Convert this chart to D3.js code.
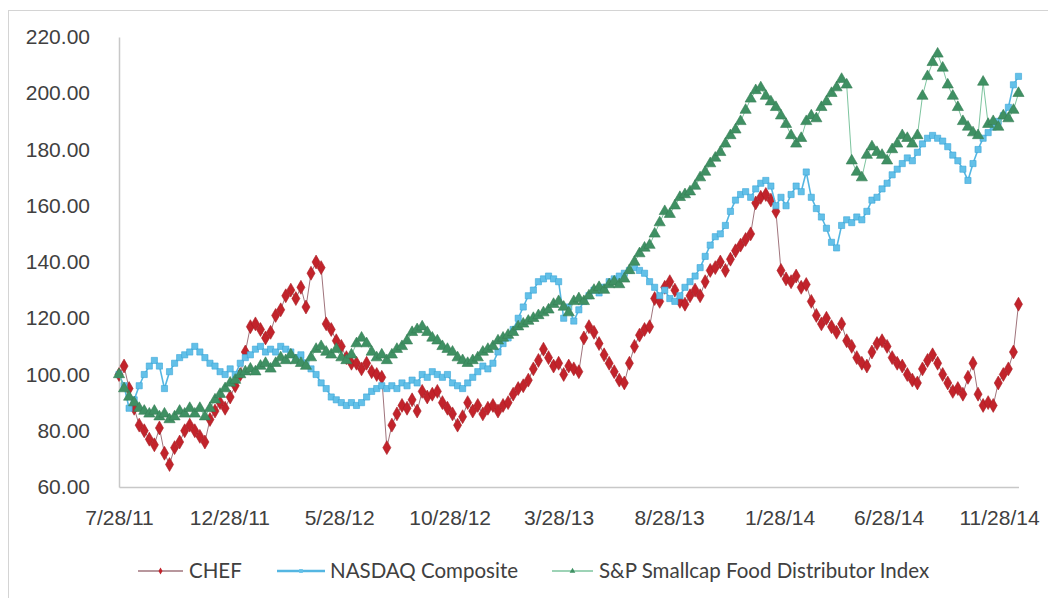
<!DOCTYPE html>
<html>
<head>
<meta charset="utf-8">
<script src="https://cdn.jsdelivr.net/npm/d3@7"></script>
<style>
  html, body { margin: 0; padding: 0; background: #fff; }
  svg { display: block; font-family: Lato, "Open Sans", sans-serif; }
</style>
</head>
<body>
<div id="chart"></div>
<script>
// weekly closes, indexed to 100 on 7/28/11
const startDate = "7/28/11";
const stepDays = 7;

const chef = [
  100, 103, 95, 88, 82, 80, 77, 75, 81, 72, 68, 74, 76, 80, 82, 80, 78, 76, 84, 87,
  90, 88, 92, 96, 100, 108, 117, 118, 116, 113, 115, 121, 123, 128, 130, 127, 131, 124, 136, 140,
  138, 118, 116, 112, 110, 106, 104, 104, 102, 104, 101, 100, 99, 74, 82, 86, 89, 88, 91, 87,
  94, 92, 93, 94, 90, 88, 86, 82, 85, 90, 87, 89, 86, 88, 89, 87, 89, 90, 93, 95,
  96, 98, 102, 105, 109, 106, 103, 104, 100, 103, 102, 101, 113, 117, 115, 111, 107, 104, 101, 98,
  97, 104, 110, 114, 116, 117, 127, 126, 131, 133, 130, 126, 125, 128, 130, 128, 133, 137, 138, 140,
  137, 141, 144, 146, 148, 150, 161, 163, 164, 162, 158, 137, 134, 133, 135, 131, 132, 126, 121, 118,
  120, 117, 115, 118, 112, 110, 106, 104, 103, 108, 111, 112, 110, 106, 104, 103, 100, 98, 97, 102,
  105, 107, 104, 100, 97, 94, 95, 93, 99, 104, 93, 89, 90, 89, 97, 100, 102, 108, 125
];

const nasdaq = [
  100, 96, 88, 91, 96, 100, 103, 105, 103, 95, 101, 104, 106, 107, 108, 110, 108, 106, 104, 103,
  101, 100, 102, 100, 104, 106, 107, 109, 110, 108, 109, 108, 110, 109, 108, 106, 107, 104, 102, 100,
  97, 95, 92, 91, 90, 89, 90, 89, 90, 92, 94, 95, 96, 95, 96, 95, 97, 96, 98, 97,
  100, 99, 101, 100, 99, 100, 97, 96, 95, 97, 99, 101, 103, 102, 104, 108, 111, 113, 116, 120,
  124, 128, 130, 133, 134, 135, 134, 133, 120, 124, 119, 123, 126, 128, 130, 129, 131, 133, 134, 135,
  136, 137, 138, 137, 136, 133, 131, 128, 130, 127, 126, 128, 131, 133, 135, 138, 142, 146, 149, 150,
  153, 158, 162, 164, 165, 163, 166, 168, 169, 167, 160, 163, 160, 164, 167, 165, 172, 163, 159, 156,
  152, 147, 145, 153, 155, 154, 156, 155, 158, 162, 163, 166, 168, 171, 173, 175, 177, 176, 179, 182,
  184, 185, 184, 183, 181, 178, 176, 173, 169, 175, 180, 184, 186, 188, 190, 192, 195, 203, 206
];

const spFood = [
  100, 95, 92, 90, 88, 87, 86, 87, 85, 86, 84, 85, 87, 86, 88, 86, 88, 85, 88, 91,
  93, 95, 97, 98, 100, 101, 102, 101, 103, 104, 102, 104, 106, 105, 107, 105, 104, 103, 106, 109,
  110, 108, 107, 109, 106, 105, 107, 111, 113, 111, 108, 106, 107, 105, 107, 109, 110, 112, 115, 116,
  117, 115, 113, 112, 110, 109, 108, 106, 105, 104, 105, 106, 108, 109, 110, 112, 113, 114, 115, 117,
  118, 119, 120, 121, 122, 123, 125, 126, 124, 122, 126, 127, 126, 128, 130, 131, 130, 132, 133, 132,
  134, 137, 140, 143, 145, 146, 150, 154, 158, 157, 160, 163, 164, 165, 167, 170, 172, 175, 177, 179,
  182, 185, 187, 190, 194, 198, 201, 202, 199, 197, 195, 192, 189, 185, 182, 184, 190, 192, 191, 195,
  197, 200, 202, 205, 203, 176, 172, 170, 178, 181, 179, 178, 176, 180, 182, 185, 184, 182, 185, 199,
  206, 211, 214, 209, 203, 199, 195, 190, 188, 186, 185, 204, 189, 190, 188, 192, 191, 194, 200
];

const yTicks = [60, 80, 100, 120, 140, 160, 180, 200, 220];
const xTickLabels = ["7/28/11", "12/28/11", "5/28/12", "10/28/12", "3/28/13", "8/28/13", "1/28/14", "6/28/14", "11/28/14"];

const seriesNames = ["CHEF", "NASDAQ Composite", "S&P Smallcap Food Distributor Index"];

// ── Setup ──────────────────────────────────────────────────────────────────
const W = 1048, H = 598;
const parse = d3.timeParse("%m/%d/%y");
const fmtDate = d3.timeFormat("%-m/%d/%y");
const t0 = parse(startDate);
const dates = chef.map((_, i) => d3.timeDay.offset(t0, i * stepDays));

const PLOT = { left: 119, top: 37, bottom: 487 };
const pxPerDay = 0.7219;
const lastDate = dates[dates.length - 1];
const x = d3.scaleTime()
  .domain([t0, lastDate])
  .range([PLOT.left, PLOT.left + d3.timeDay.count(t0, lastDate) * pxPerDay]);
const y = d3.scaleLinear().domain([60, 220]).range([PLOT.bottom, PLOT.top]);

const svg = d3.select("#chart").append("svg").attr("width", W).attr("height", H);

// chart border (only top/left visible in the crop)
svg.append("rect")
  .attr("x", 8.5).attr("y", 10.5).attr("width", W + 20).attr("height", H + 20)
  .attr("fill", "#fff").attr("stroke", "#d4d4d4").attr("stroke-width", 1);

// ── Axes ───────────────────────────────────────────────────────────────────
const axisColor = "#c8c8c8";
const textColor = "#404040";

const yAxis = svg.append("g")
  .attr("transform", `translate(${PLOT.left},0)`)
  .call(d3.axisLeft(y).tickValues(yTicks).tickFormat(d3.format(".2f")).tickSize(0).tickPadding(29));
yAxis.select(".domain").attr("stroke", axisColor).attr("stroke-width", 1.5);
yAxis.selectAll("text").attr("fill", textColor).attr("font-size", 21);

const xAxis = svg.append("g")
  .attr("transform", `translate(0,${PLOT.bottom})`)
  .call(d3.axisBottom(x).tickValues(xTickLabels.map(parse)).tickFormat(fmtDate).tickSize(0).tickPadding(23));
xAxis.select(".domain").attr("stroke", axisColor).attr("stroke-width", 1.5);
xAxis.selectAll("text").attr("fill", textColor).attr("font-size", 21);

// ── Series ─────────────────────────────────────────────────────────────────
const styles = [
  { values: chef, line: "#a0747c", lw: 1, fill: "#c2232b", stroke: "#a81d24", symbol: d3.symbolDiamond, size: 56 },
  { values: nasdaq, line: "#54b6e2", lw: 1.6, fill: "#63c0e8", stroke: "#3aa6d6", symbol: d3.symbolSquare, size: 38 },
  { values: spFood, line: "#7cc49e", lw: 1, fill: "#3f9063", stroke: "#357d55", symbol: d3.symbolTriangle, size: 54 }
];

const line = d3.line().x((d) => x(d[0])).y((d) => y(d[1]));

styles.forEach((s) => {
  const pts = s.values.map((v, i) => [dates[i], v]);
  const g = svg.append("g");
  g.append("path")
    .datum(pts)
    .attr("d", line)
    .attr("fill", "none")
    .attr("stroke", s.line)
    .attr("stroke-width", s.lw);
  g.selectAll("path.m")
    .data(pts)
    .join("path")
    .attr("class", "m")
    .attr("transform", (d) => `translate(${x(d[0])},${y(d[1])})`)
    .attr("d", d3.symbol().type(s.symbol).size(s.size))
    .attr("fill", s.fill)
    .attr("stroke", s.stroke)
    .attr("stroke-width", 0.6);
});

// ── Legend ─────────────────────────────────────────────────────────────────
const legendY = 571;
const legendPos = [
  { x1: 138, x2: 183, tx: 189 },
  { x1: 277, x2: 325, tx: 330 },
  { x1: 552, x2: 593, tx: 599 }
];

const legend = svg.append("g");
seriesNames.forEach((name, i) => {
  const s = styles[i];
  const p = legendPos[i];
  const item = legend.append("g");
  item.append("line")
    .attr("x1", p.x1).attr("x2", p.x2).attr("y1", legendY).attr("y2", legendY)
    .attr("stroke", s.line).attr("stroke-width", i === 1 ? 2.5 : 1.3);
  item.append("path")
    .attr("transform", `translate(${(p.x1 + p.x2) / 2},${legendY})`)
    .attr("d", d3.symbol().type(s.symbol).size(14))
    .attr("fill", s.fill);
  item.append("text")
    .attr("x", p.tx).attr("y", legendY)
    .attr("dy", "0.35em")
    .attr("fill", textColor)
    .attr("font-size", 20.5)
    .text(name);
});
</script>
</body>
</html>
